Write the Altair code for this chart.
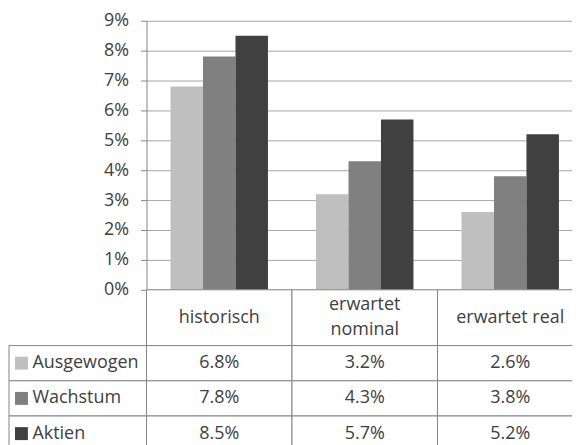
import altair as alt
import pandas as pd

categories = ["historisch", "erwartet\nnominal", "erwartet real"]
series = ["Ausgewogen", "Wachstum", "Aktien"]
ausgewogen = [6.8, 3.2, 2.6]
wachstum = [7.8, 4.3, 3.8]
aktien = [8.5, 5.7, 5.2]
colors = ["#bfbfbf", "#808080", "#404040"]
y_ticks = [0, 1, 2, 3, 4, 5, 6, 7, 8, 9]

rows = []
for s, vals in zip(series, [ausgewogen, wachstum, aktien]):
    for c, v in zip(categories, vals):
        rows.append({"category": c, "series": s, "value": v / 100, "label": f"{v:.1f}%"})
df = pd.DataFrame(rows)

# header text lines (one row per printed line, centred in its cell)
hdr_rows = []
for c in categories:
    parts = c.split("\n")
    n = len(parts)
    for i, p in enumerate(parts):
        hdr_rows.append({"category": c, "text": p, "line": i - (n - 1) / 2})
hdr_df = pd.DataFrame(hdr_rows)

FONT = "Open Sans"
FS = 18
TXT = "#404040"
GRID = "#a6a6a6"
LINE = "#868686"
PW = 438

x_scale = alt.Scale(domain=categories, paddingInner=0, paddingOuter=0)
color_scale = alt.Scale(domain=series, range=colors)
row_scale = alt.Scale(domain=series, paddingInner=0, paddingOuter=0)

bars = alt.Chart(df).mark_bar().encode(
    x=alt.X("category:N", scale=x_scale, sort=categories,
            axis=alt.Axis(title=None, labels=False, ticks=False, domainColor=LINE)),
    xOffset=alt.XOffset("series:N", sort=series,
                        scale=alt.Scale(domain=series, paddingInner=0, paddingOuter=0.74)),
    y=alt.Y("value:Q", scale=alt.Scale(domain=[0, 0.09], nice=False),
            axis=alt.Axis(title=None, format=".0%", values=[t / 100 for t in y_ticks],
                          grid=True, gridColor=GRID, domainColor=LINE, tickColor=LINE,
                          tickSize=6, labelPadding=12, labelFontSize=FS, labelColor=TXT,
                          labelFont=FONT)),
    color=alt.Color("series:N", scale=color_scale, legend=None),
).properties(width=PW, height=270)

spacer_top = alt.Chart(pd.DataFrame({"a": [0]})).mark_point(opacity=0).properties(width=138, height=270)
spacer_mid = alt.Chart(pd.DataFrame({"a": [0]})).mark_point(opacity=0).properties(width=138, height=56)

hdr_cells = alt.Chart(pd.DataFrame({"category": categories})).mark_rect(
    fill="white", stroke=LINE, strokeWidth=1).encode(
    x=alt.X("category:N", scale=x_scale, sort=categories, axis=None))
hdr_txt = alt.Chart(hdr_df).mark_text(align="center", baseline="middle", font=FONT,
                                      fontSize=FS, color=TXT).encode(
    x=alt.X("category:N", scale=x_scale, sort=categories, axis=None),
    y=alt.Y("line:Q", scale=alt.Scale(domain=[1.1, -1.1], nice=False, zero=False), axis=None),
    text="text:N")
header = alt.layer(hdr_cells, hdr_txt).properties(width=PW, height=56)

legend_df = pd.DataFrame({"series": series})
leg_base = alt.Chart(legend_df).encode(
    y=alt.Y("series:N", scale=row_scale, sort=series, axis=None))
leg_rect = leg_base.mark_rect(fill="white", stroke=LINE, strokeWidth=1)
leg_sq = leg_base.mark_square(size=169, opacity=1, filled=True).encode(
    x=alt.value(12.5),
    color=alt.Color("series:N", scale=color_scale, legend=None))
leg_txt = leg_base.mark_text(align="left", baseline="middle", font=FONT, fontSize=FS,
                             color=TXT).encode(x=alt.value(23.5), text="series:N")
legend_col = alt.layer(leg_rect, leg_sq, leg_txt).properties(width=138, height=106)

val_base = alt.Chart(df).encode(
    x=alt.X("category:N", scale=x_scale, sort=categories, axis=None),
    y=alt.Y("series:N", scale=row_scale, sort=series, axis=None))
val_rect = val_base.mark_rect(fill="white", stroke=LINE, strokeWidth=1)
val_txt = val_base.mark_text(align="center", baseline="middle", font=FONT, fontSize=FS,
                             color=TXT).encode(text="label:N")
values = alt.layer(val_rect, val_txt).properties(width=PW, height=106)

chart = alt.concat(spacer_top, bars, spacer_mid, header, legend_col, values, columns=2,
                   spacing=0).resolve_scale(
    x="independent", y="independent", color="shared"
).properties(
    align="each", bounds="flush",
    padding={"left": 0, "top": 3, "right": -12, "bottom": 0},
    background="white"
).configure_view(strokeWidth=0)

chart.save("out.html", embed_options={"renderer": "svg", "actions": False})
